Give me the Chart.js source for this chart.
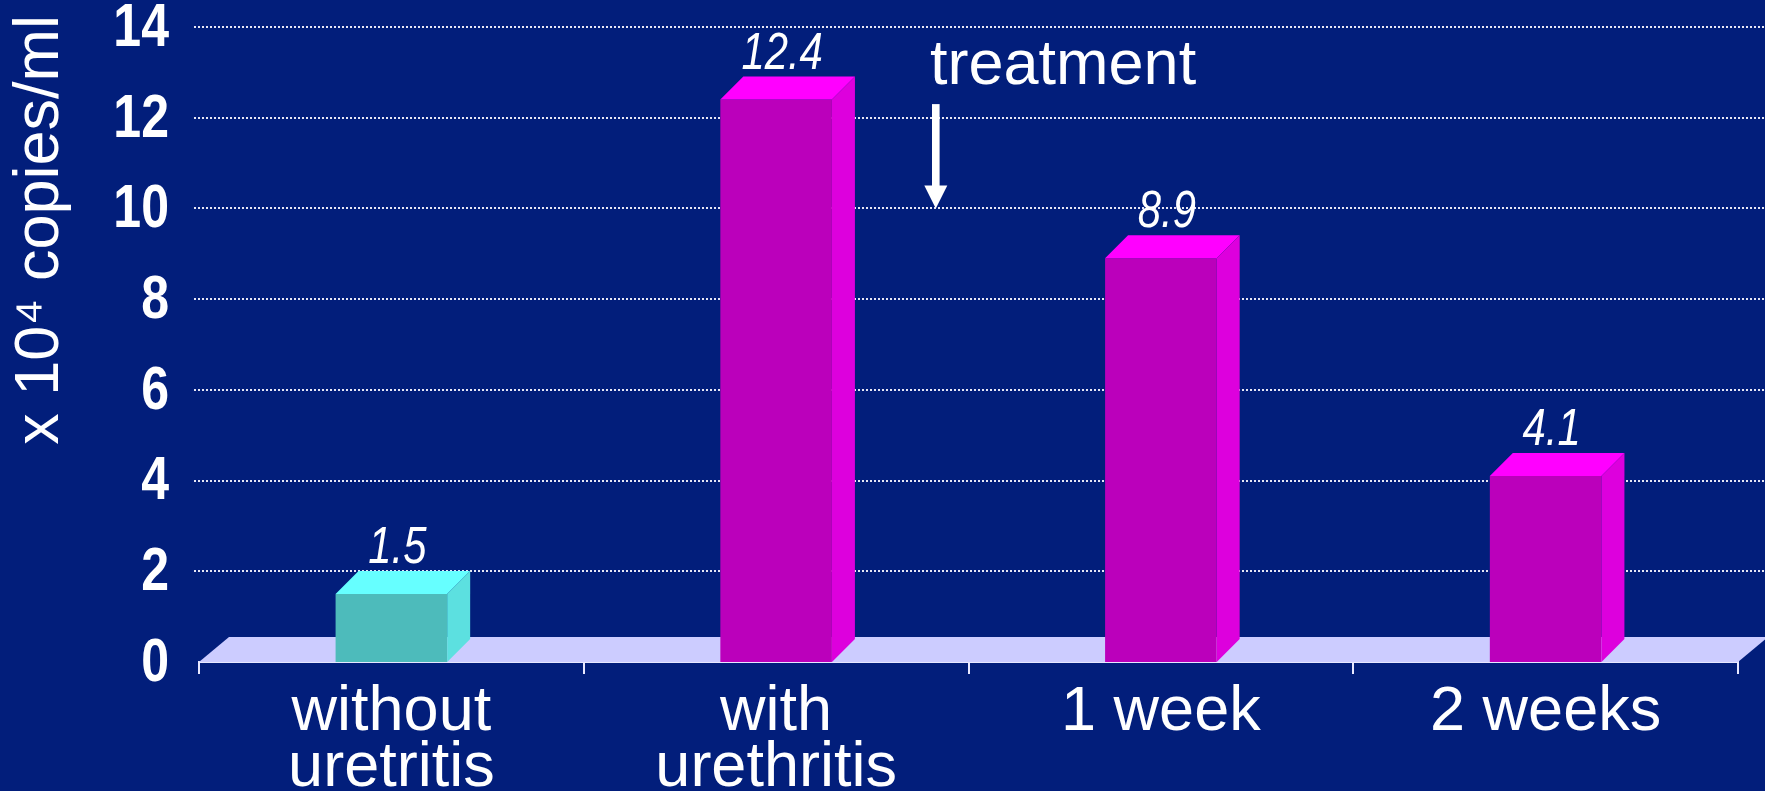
<!DOCTYPE html>
<html>
<head>
<meta charset="utf-8">
<script src="https://cdn.jsdelivr.net/npm/chart.js@4.4.0/dist/chart.umd.min.js"></script>
<style>
  html, body { margin: 0; padding: 0; background: #021E7B; }
  #wrap { width: 1765px; height: 791px; position: relative; }
</style>
</head>
<body>
<div id="wrap"><canvas id="loadChart"></canvas></div>
<script>
// viral load, x 10^4 copies/ml
const groups = [['without', 'uretritis'], ['with', 'urethritis'], '1 week', '2 weeks'];
const loads = [1.5, 12.4, 8.9, 4.1];
const yTicks = [0, 2, 4, 6, 8, 10, 12, 14];

// front / top / side shade of each column
const frontColors = ['#4DBBBB', '#BB00BB', '#BB00BB', '#BB00BB'];
const topColors = ['#66FFFF', '#FF00FF', '#FF00FF', '#FF00FF'];
const sideColors = ['#5CE0E0', '#DD00DD', '#DD00DD', '#DD00DD'];

// "treatment" arrow, in axis units
const noteText = 'treatment';
const noteX = 1.4;
const noteTextY = 12.75;
const arrowX = 1.415;
const arrowFrom = 12.3;
const arrowTo = 10;

const SANS = '"Liberation Sans", Arial, sans-serif';
const NARROW = 0.82;     // squeeze for the condensed look
const DEPTH = 23;        // bar depth
const FLOOR_DX = 30, FLOOR_DY = 25;

function narrowText(ctx, text, x, y) {
  ctx.save();
  ctx.translate(x, y);
  ctx.scale(NARROW, 1);
  ctx.fillText(text, 0, 0);
  ctx.restore();
}

// dotted value lines, running out to the right edge
const gridLines = {
  id: 'gridLines',
  beforeDatasetsDraw(chart) {
    const { ctx, scales: { x, y } } = chart;
    ctx.save();
    ctx.strokeStyle = '#E6E6F5';
    ctx.lineWidth = 2;
    ctx.setLineDash([2, 2]);
    y.ticks.forEach(t => {
      if (t.value === 0) return;
      const py = Math.round(y.getPixelForValue(t.value));
      ctx.beginPath();
      ctx.moveTo(x.left - 5, py);
      ctx.lineTo(chart.width, py);
      ctx.stroke();
    });
    ctx.restore();
  }
};

// lavender floor under the columns
const floor = {
  id: 'floor',
  beforeDatasetsDraw(chart) {
    const { ctx, scales: { x, y } } = chart;
    const base = y.getPixelForValue(0);
    ctx.save();
    ctx.fillStyle = '#CCCCFF';
    ctx.beginPath();
    ctx.moveTo(x.left, base);
    ctx.lineTo(x.left + FLOOR_DX, base - FLOOR_DY);
    ctx.lineTo(x.right + FLOOR_DX, base - FLOOR_DY);
    ctx.lineTo(x.right, base);
    ctx.closePath();
    ctx.fill();
    ctx.restore();
  }
};

// top and side faces + value on each column
const columns3d = {
  id: 'columns3d',
  afterDatasetsDraw(chart) {
    const { ctx } = chart;
    const meta = chart.getDatasetMeta(0);
    ctx.save();
    meta.data.forEach((bar, i) => {
      const { x, y, base, width } = bar.getProps(['x', 'y', 'base', 'width'], true);
      const l = x - width / 2, r = x + width / 2;
      ctx.fillStyle = topColors[i];
      ctx.beginPath();
      ctx.moveTo(l, y);
      ctx.lineTo(l + DEPTH, y - DEPTH);
      ctx.lineTo(r + DEPTH, y - DEPTH);
      ctx.lineTo(r, y);
      ctx.closePath();
      ctx.fill();
      ctx.fillStyle = sideColors[i];
      ctx.beginPath();
      ctx.moveTo(r, y);
      ctx.lineTo(r + DEPTH, y - DEPTH);
      ctx.lineTo(r + DEPTH, base - DEPTH);
      ctx.lineTo(r, base);
      ctx.closePath();
      ctx.fill();

      ctx.fillStyle = '#FFFFFF';
      ctx.font = 'italic 51px ' + SANS;
      ctx.textAlign = 'center';
      ctx.textBaseline = 'alphabetic';
      narrowText(ctx, loads[i].toFixed(1), x + 6, y - DEPTH - 8);
    });
    ctx.restore();
  }
};

// y tick labels, axis title and the treatment arrow
const notes = {
  id: 'notes',
  afterDraw(chart) {
    const { ctx, scales: { x, y } } = chart;
    ctx.save();
    ctx.fillStyle = '#FFFFFF';

    ctx.font = 'bold 61px ' + SANS;
    ctx.textAlign = 'right';
    ctx.textBaseline = 'middle';
    y.ticks.forEach(t => {
      narrowText(ctx, String(t.value), x.left - 30, y.getPixelForValue(t.value) + 2);
    });

    ctx.font = '63px ' + SANS;
    ctx.save();
    ctx.translate(y.left + 41, y.top - 12);
    ctx.rotate(-Math.PI / 2);
    ctx.textAlign = 'right';
    ctx.textBaseline = 'middle';
    ctx.fillText('x 10\u2074 copies/ml', 0, 0);
    ctx.restore();

    ctx.textAlign = 'left';
    ctx.textBaseline = 'alphabetic';
    ctx.fillText(noteText, x.getPixelForValue(noteX), y.getPixelForValue(noteTextY));

    const ax = x.getPixelForValue(arrowX);
    const top = y.getPixelForValue(arrowFrom);
    const tip = y.getPixelForValue(arrowTo);
    const head = 23;
    ctx.fillRect(ax - 3.8, top, 7.6, tip - top - head + 2);
    ctx.beginPath();
    ctx.moveTo(ax - 11.5, tip - head);
    ctx.lineTo(ax + 11.5, tip - head);
    ctx.lineTo(ax, tip);
    ctx.closePath();
    ctx.fill();
    ctx.restore();
  }
};

new Chart(document.getElementById('loadChart'), {
  type: 'bar',
  data: {
    labels: groups,
    datasets: [{
      data: loads,
      backgroundColor: frontColors,
      borderWidth: 0,
      barPercentage: 0.29,
      categoryPercentage: 1
    }]
  },
  options: {
    responsive: true,
    maintainAspectRatio: false,
    animation: false,
    layout: { padding: { top: 27, right: 27, left: 0, bottom: 0 } },
    plugins: {
      legend: { display: false },
      tooltip: { enabled: false }
    },
    scales: {
      x: {
        z: 1,
        offset: true,
        grid: {
          offset: true,
          drawOnChartArea: false,
          drawTicks: true,
          tickLength: 12,
          color: '#E8E8FF',
          lineWidth: 2
        },
        border: { display: true, color: '#E8E8FF', width: 2 },
        ticks: {
          color: '#FFFFFF',
          font: { family: SANS, size: 63, lineHeight: 0.88 },
          padding: 11,
          maxRotation: 0,
          autoSkip: false
        },
        afterFit(s) { s.height = 129; }
      },
      y: {
        min: 0,
        max: 14,
        afterBuildTicks(s) { s.ticks = yTicks.map(v => ({ value: v })); },
        grid: { display: false, drawTicks: false },
        border: { display: false },
        ticks: { display: false },
        afterFit(s) {
          s.width = 199;
          s.paddingTop = 0;
          s.paddingBottom = 0;
        }
      }
    }
  },
  plugins: [gridLines, floor, columns3d, notes]
});
</script>
</body>
</html>
